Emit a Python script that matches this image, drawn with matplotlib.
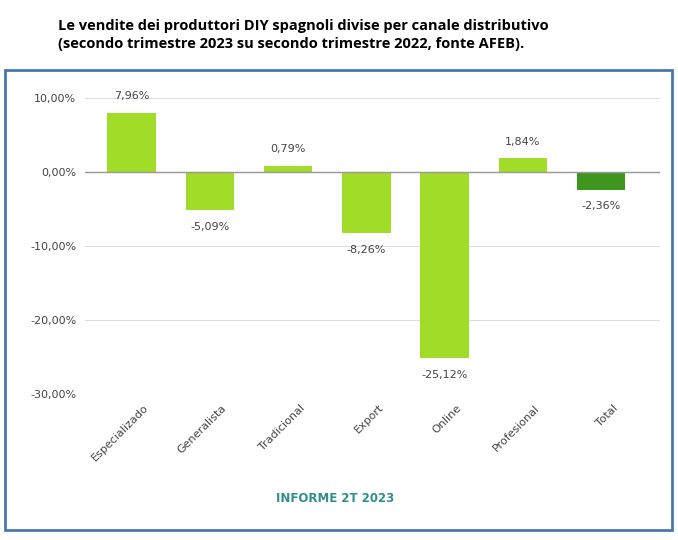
import matplotlib.pyplot as plt
from matplotlib.patches import Rectangle

categories = ['Especializado', 'Generalista', 'Tradicional', 'Export', 'Online', 'Profesional', 'Total']
values = [7.96, -5.09, 0.79, -8.26, -25.12, 1.84, -2.36]
colors = ['#a0dc28'] * 6 + ['#3f961e']

fig = plt.figure(figsize=(6.78, 5.4), dpi=100)
fig.patches.append(Rectangle((0.007, 0.0185), 0.984, 0.852, transform=fig.transFigure,
                             fill=False, edgecolor='#4a78b0', linewidth=2))
fig.text(0.085, 0.965, 'Le vendite dei produttori DIY spagnoli divise per canale distributivo\n'
         '(secondo trimestre 2023 su secondo trimestre 2022, fonte AFEB).',
         fontsize=10.5, fontweight='bold', va='top', linespacing=1.4, family='Open Sans')
fig.text(0.495, 0.07, 'INFORME 2T 2023', color='#2f8f8a', fontsize=8.5, fontweight='bold', ha='center')

ax = fig.add_axes([0.125, 0.27, 0.848, 0.5485])
x = range(len(categories))
ax.bar(x, values, width=0.62, color=colors, zorder=3)
for i, v in enumerate(values):
    off = 1.6 if v >= 0 else -1.6
    ax.text(i, v + off, f'{v:.2f}%'.replace('.', ','), ha='center',
            va='bottom' if v >= 0 else 'top', fontsize=8, color='#444444')
ax.set_ylim(-30, 10)
ax.set_xlim(-0.6, 6.75)
ax.set_yticks([10, 0, -10, -20, -30])
ax.set_yticklabels(['10,00%', '0,00%', '-10,00%', '-20,00%', '-30,00%'], fontsize=8, color='#444444')
ax.set_xticks([i + 0.15 for i in x])
ax.set_xticklabels(categories, rotation=45, ha='right', rotation_mode='anchor', fontsize=8, color='#444444')
ax.grid(axis='y', color='#dddddd', linewidth=0.8, zorder=0)
ax.axhline(0, color='#999999', linewidth=1, zorder=4)
ax.tick_params(length=0, pad=6)
for s in ax.spines.values():
    s.set_visible(False)

fig.savefig('out.png', dpi=100)
